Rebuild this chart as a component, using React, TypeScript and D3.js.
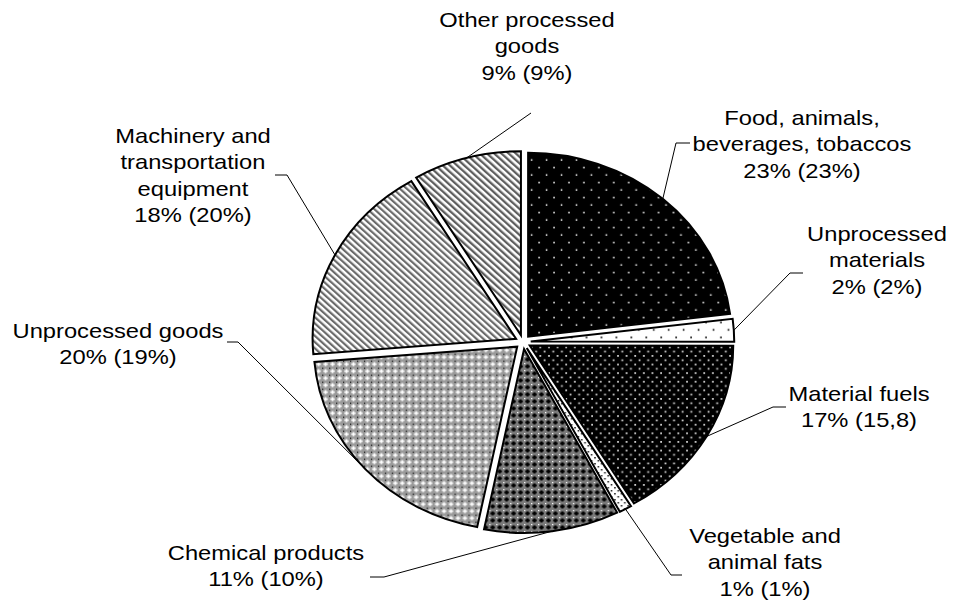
import React from "react";
import * as d3 from "d3";

// ---- data ----
const categories = [
  "Food, animals, beverages, tobaccos",
  "Unprocessed materials",
  "Material fuels",
  "Vegetable and animal fats",
  "Chemical products",
  "Unprocessed goods",
  "Machinery and transportation equipment",
  "Other processed goods",
];
const values = [23, 2, 16.4, 1, 10.7, 20.5, 17.7, 8.6];
const labelLines = [
  ["Food, animals,", "beverages, tobaccos", "23% (23%)"],
  ["Unprocessed", "materials", "2% (2%)"],
  ["Material fuels", "17% (15,8)"],
  ["Vegetable and", "animal fats", "1% (1%)"],
  ["Chemical products", "11% (10%)"],
  ["Unprocessed goods", "20% (19%)"],
  ["Machinery and", "transportation", "equipment", "18% (20%)"],
  ["Other processed", "goods", "9% (9%)"],
];
const patternIds = ["pFood", "pUnMat", "pFuel", "pVeg", "pChem", "pUnGoods", "pMach", "pOther"];

// ---- layout ----
const W = 953;
const H = 601;
const cx = 523;
const cy = 342;
const sx = 1.106; // horizontal stretch of the pie
const tsx = 1.13; // horizontal stretch of the text
const R = 184;
const explode = 7;
const fontSize = 21;
const lineH = 26.5;
// label centre x / first line centre y
const labelPos: [number, number][] = [
  [802, 117],
  [877, 233],
  [859, 393],
  [765, 535],
  [266, 552],
  [118, 330],
  [193, 135],
  [527, 19],
];
// leader start (near label) and elbow points
const leaderStart: [number, number][][] = [
  [[690, 143], [676, 143]],
  [[803, 273], [790, 273]],
  [[786, 407], [773, 407]],
  [[682, 575], [671, 575]],
  [[370, 577], [384, 577]],
  [[227, 342], [238, 342]],
  [[275, 175], [287, 175]],
  [[531, 113]],
];

export default function App() {
  const pie = d3.pie<number>().sort(null).startAngle(0).endAngle(2 * Math.PI).value((d) => d);
  const arcs = pie(values);
  const arcGen = d3.arc<d3.PieArcDatum<number>>().innerRadius(0).outerRadius(R);

  return (
    <svg
      width={W}
      height={H}
      style={{ position: "absolute", left: 0, top: 0, display: "block", background: "#fff" }}
    >
      <defs>
        <pattern id="pFood" patternUnits="userSpaceOnUse" width={13.5} height={15}>
          <rect width={13.5} height={15} fill="#000" />
          <rect x={2.5} y={2.5} width={1.4} height={1.5} fill="#fff" />
          <rect x={9.25} y={10} width={1.4} height={1.5} fill="#fff" />
        </pattern>
        <pattern id="pUnMat" patternUnits="userSpaceOnUse" width={13.5} height={15}>
          <rect width={13.5} height={15} fill="#fff" />
          <rect x={2.5} y={2.5} width={1.5} height={1.6} fill="#000" />
          <rect x={9.25} y={10} width={1.5} height={1.6} fill="#000" />
        </pattern>
        <pattern id="pFuel" patternUnits="userSpaceOnUse" width={7.8} height={8.6}>
          <rect width={7.8} height={8.6} fill="#000" />
          <rect x={1} y={1} width={1.6} height={1.7} fill="#d8d8d8" />
          <rect x={4.9} y={5.3} width={1.6} height={1.7} fill="#d8d8d8" />
        </pattern>
        <pattern id="pVeg" patternUnits="userSpaceOnUse" width={6} height={6}>
          <rect width={6} height={6} fill="#fff" />
          <rect x={1} y={1} width={1.4} height={1.4} fill="#000" />
          <rect x={4} y={4} width={1.4} height={1.4} fill="#000" />
        </pattern>
        <pattern id="pChem" patternUnits="userSpaceOnUse" width={6.3} height={7}>
          <rect width={6.3} height={7} fill="#7a7a7a" />
          <rect x={2.15} y={1.5} width={2} height={4} fill="#000" />
          <rect x={1.15} y={2.5} width={4} height={2} fill="#000" />
          <rect x={0} y={0} width={1.2} height={1.2} fill="#fff" />
        </pattern>
        <pattern id="pUnGoods" patternUnits="userSpaceOnUse" width={6.3} height={7}>
          <rect width={6.3} height={7} fill="#9a9a9a" />
          <rect x={2.35} y={1.5} width={1.6} height={4} fill="#fff" />
          <rect x={1.15} y={2.7} width={4} height={1.6} fill="#fff" />
          <rect x={0} y={0} width={1.1} height={1.1} fill="#000" />
        </pattern>
        <pattern id="pMach" patternUnits="userSpaceOnUse" width={4.4} height={10} patternTransform="rotate(-45)">
          <rect width={4.4} height={10} fill="#fff" />
          <rect width={2.1} height={10} fill="#6a6a6a" />
        </pattern>
        <pattern id="pOther" patternUnits="userSpaceOnUse" width={4.6} height={10} patternTransform="rotate(-45)">
          <rect width={4.6} height={10} fill="#fff" />
          <rect width={2.2} height={10} fill="#5e5e5e" />
        </pattern>
      </defs>

      <g transform={`translate(${cx},${cy}) scale(${sx},1)`}>
        {arcs.map((a, i) => {
          const mid = (a.startAngle + a.endAngle) / 2;
          const ox = explode * Math.sin(mid);
          const oy = -explode * Math.cos(mid);
          return (
            <path
              key={categories[i]}
              d={arcGen(a) || ""}
              transform={`translate(${ox},${oy})`}
              fill={`url(#${patternIds[i]})`}
              stroke="#000"
              strokeWidth={2}
              strokeLinejoin="miter"
              vectorEffect="non-scaling-stroke"
            />
          );
        })}
      </g>

      <g fill="none" stroke="#000" strokeWidth={1}>
        {arcs.map((a, i) => {
          const mid = (a.startAngle + a.endAngle) / 2;
          const ex = cx + sx * (R + explode) * Math.sin(mid);
          const ey = cy - (R + explode) * Math.cos(mid);
          const pts = [...leaderStart[i], [ex, ey]];
          return <polyline key={i} points={pts.map((p) => p.join(",")).join(" ")} />;
        })}
      </g>

      <g
        transform={`scale(${tsx},1)`}
        fontFamily="'Liberation Sans', Arial, sans-serif"
        fontSize={fontSize}
        fill="#000"
        textAnchor="middle"
      >
        {labelLines.map((lines, i) =>
          lines.map((t, j) => (
            <text
              key={`${i}-${j}`}
              x={labelPos[i][0] / tsx}
              y={labelPos[i][1] + j * lineH + fontSize * 0.36}
            >
              {t}
            </text>
          ))
        )}
      </g>
    </svg>
  );
}
